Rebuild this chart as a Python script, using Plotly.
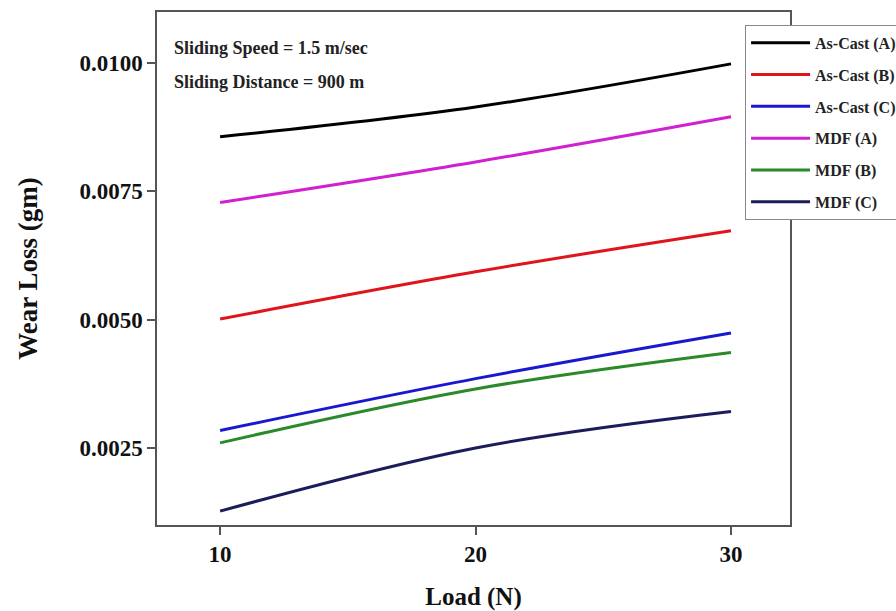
import plotly.graph_objects as go

load = [10, 20, 30]
series_names = ["As-Cast (A)", "As-Cast (B)", "As-Cast (C)", "MDF (A)", "MDF (B)", "MDF (C)"]
as_cast_a = [0.00856, 0.00914, 0.00998]
as_cast_b = [0.00501, 0.00593, 0.00673]
as_cast_c = [0.00284, 0.00385, 0.00474]
mdf_a = [0.00728, 0.00807, 0.00895]
mdf_b = [0.00260, 0.00365, 0.00436]
mdf_c = [0.00127, 0.00250, 0.00321]
colors = ["#000000", "#e0141c", "#1818d0", "#d020d0", "#2a8a2a", "#1c1c5c"]
values = [as_cast_a, as_cast_b, as_cast_c, mdf_a, mdf_b, mdf_c]

serif = "Liberation Serif, Times New Roman, serif"

fig = go.Figure()
for i, (name, vals, col) in enumerate(zip(series_names, values, colors)):
    fig.add_trace(go.Scatter(
        x=load, y=vals, name=name, mode="lines",
        line=dict(color=col, width=3, shape="spline", smoothing=1),
        legendgroup=f"g{i}",
    ))

fig.update_layout(
    width=896, height=611,
    margin=dict(l=157, r=106, t=12, b=86, autoexpand=False),
    paper_bgcolor="white", plot_bgcolor="white",
    font=dict(family=serif, color="#111111"),
    showlegend=True,
    legend=dict(
        x=0.929, y=0.975, xanchor="left", yanchor="top",
        bgcolor="white", bordercolor="#888888", borderwidth=1,
        font=dict(family=serif, size=16, color="#222222", weight="bold"),
        tracegroupgap=8, traceorder="grouped",
        itemwidth=59,
    ),
    xaxis=dict(
        range=[7.53, 32.31], tickvals=[10, 20, 30],
        ticks="outside", ticklen=8, tickwidth=1.5, tickcolor="#555555",
        showline=True, linecolor="#555555", linewidth=1.5, mirror=True,
        showgrid=False, zeroline=False,
        tickfont=dict(family=serif, size=23, color="#111111", weight="bold"),
        title=dict(text="Load (N)", standoff=23,
                   font=dict(family=serif, size=25, color="#111111", weight="bold")),
    ),
    yaxis=dict(
        range=[0.0010, 0.01099], tickvals=[0.0025, 0.0050, 0.0075, 0.0100],
        tickformat=".4f",
        ticks="outside", ticklen=8, tickwidth=1.5, tickcolor="#555555",
        showline=True, linecolor="#555555", linewidth=1.5, mirror=True,
        showgrid=False, zeroline=False,
        tickfont=dict(family=serif, size=23, color="#111111", weight="bold"),
        title=dict(text="Wear Loss (gm)", standoff=34,
                   font=dict(family=serif, size=27, color="#111111", weight="bold")),
    ),
    annotations=[
        dict(text="Sliding Speed = 1.5 m/sec", xref="paper", yref="paper",
             x=(172 - 157) / 633, y=(525 - 48) / 513, xanchor="left", yanchor="middle",
             showarrow=False, font=dict(family=serif, size=18, color="#222222", weight="bold")),
        dict(text="Sliding Distance = 900 m", xref="paper", yref="paper",
             x=(172 - 157) / 633, y=(525 - 82) / 513, xanchor="left", yanchor="middle",
             showarrow=False, font=dict(family=serif, size=18, color="#222222", weight="bold")),
    ],
)

fig.write_html("out.html", config={"displayModeBar": False},
               post_script="document.body.style.margin='0';")
